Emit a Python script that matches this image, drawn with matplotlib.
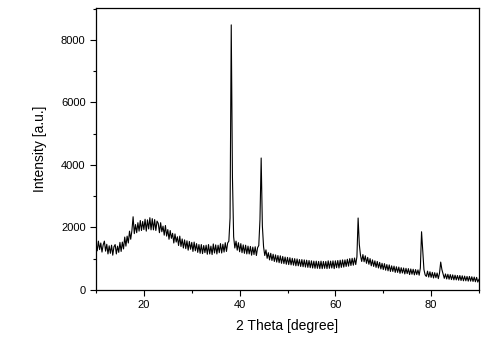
import numpy as np
import matplotlib
matplotlib.use('Agg')
import matplotlib.pyplot as plt
from matplotlib.ticker import MultipleLocator

# XRD pattern, 2 theta from 10 to 90 in 0.25 degree steps
two_theta = np.arange(10, 90.001, 0.25)

intensity = [
    1490, 1250, 1560, 1290,   # 10
    1500, 1210, 1440, 1560,   # 11
    1240, 1460, 1150, 1410,   # 12
    1170, 1430, 1110, 1380,   # 13
    1450, 1150, 1400, 1200,   # 14
    1520, 1230, 1530, 1310,   # 15
    1690, 1400, 1720, 1500,   # 16
    1880, 1620, 1900, 2340,   # 17
    1800, 2090, 1830, 2150,   # 18
    1880, 2220, 1900, 2190,   # 19
    1930, 2260, 1880, 2240,   # 20
    1950, 2310, 1920, 2280,   # 21
    1920, 2250, 1900, 2200,   # 22
    2130, 1830, 2150, 1860,   # 23
    2040, 1750, 2060, 1720,   # 24
    1930, 1620, 1900, 1650,   # 25
    1810, 1500, 1790, 1530,   # 26
    1700, 1420, 1720, 1390,   # 27
    1630, 1340, 1600, 1320,   # 28
    1570, 1270, 1550, 1300,   # 29
    1520, 1230, 1530, 1250,   # 30
    1480, 1200, 1450, 1170,   # 31
    1450, 1160, 1420, 1190,   # 32
    1430, 1140, 1450, 1150,   # 33
    1400, 1130, 1470, 1180,   # 34
    1440, 1150, 1430, 1190,   # 35
    1480, 1180, 1460, 1210,   # 36
    1510, 1230, 1500, 1560,   # 37
    2300, 8480, 3600, 1700,   # 38
    1340, 1560, 1270, 1510,   # 39
    1220, 1480, 1190, 1440,   # 40
    1170, 1430, 1150, 1400,   # 41
    1150, 1390, 1110, 1370,   # 42
    1130, 1380, 1100, 1350,   # 43
    1420, 2250, 4220, 2050,   # 44
    1380, 1100, 1280, 1010,   # 45
    1190, 960, 1170, 940,     # 46
    1140, 910, 1120, 890,     # 47
    1100, 870, 1090, 850,     # 48
    1070, 840, 1050, 820,     # 49
    1040, 810, 1030, 800,     # 50
    1010, 790, 1000, 770,     # 51
    990, 770, 970, 750,       # 52
    970, 740, 960, 730,       # 53
    950, 720, 940, 710,       # 54
    930, 700, 920, 690,       # 55
    920, 690, 910, 680,       # 56
    920, 680, 910, 690,       # 57
    910, 680, 930, 690,       # 58
    920, 700, 930, 680,       # 59
    930, 710, 940, 700,       # 60
    950, 720, 960, 730,       # 61
    960, 750, 980, 760,       # 62
    1000, 780, 1010, 790,     # 63
    1020, 810, 1060, 2300,    # 64
    1450, 1100, 910, 1130,    # 65
    900, 1090, 850, 1040,     # 66
    820, 1000, 770, 960,      # 67
    750, 930, 720, 910,       # 68
    700, 880, 670, 850,       # 69
    650, 840, 630, 810,       # 70
    610, 800, 590, 770,       # 71
    590, 760, 560, 740,       # 72
    560, 730, 530, 710,       # 73
    540, 700, 510, 690,       # 74
    520, 680, 490, 670,       # 75
    500, 660, 480, 650,       # 76
    490, 640, 470, 700,       # 77
    1860, 1250, 650, 480,     # 78
    430, 600, 410, 580,       # 79
    400, 560, 380, 550,       # 80
    390, 540, 360, 530,       # 81
    890, 650, 510, 370,       # 82
    510, 350, 500, 340,       # 83
    490, 330, 480, 320,       # 84
    470, 320, 460, 310,       # 85
    460, 300, 450, 290,       # 86
    440, 290, 430, 280,       # 87
    430, 280, 420, 270,       # 88
    410, 260, 400, 250,       # 89
    340,                      # 90
]

x_ticks = [20, 40, 60, 80]
y_ticks = [0, 2000, 4000, 6000, 8000]

plt.rcParams['font.family'] = ['Liberation Sans', 'DejaVu Sans']

fig = plt.figure(figsize=(5, 3.48), dpi=100)
ax = fig.add_axes([0.192, 0.167, 0.766, 0.810])

ax.plot(two_theta, intensity, color='black', linewidth=0.8)

ax.set_xlim(10, 90)
ax.set_ylim(0, 9020)
ax.set_xticks(x_ticks)
ax.set_yticks(y_ticks)
ax.xaxis.set_minor_locator(MultipleLocator(10))
ax.yaxis.set_minor_locator(MultipleLocator(1000))
ax.tick_params(which='major', direction='out', length=4, width=0.8, labelsize=8)
ax.tick_params(which='minor', direction='out', length=2.5, width=0.8)

for s in ax.spines.values():
    s.set_linewidth(0.9)

ax.set_xlabel('2 Theta [degree]', fontsize=10, labelpad=6)
ax.set_ylabel('Intensity [a.u.]', fontsize=10, labelpad=10)

fig.savefig('out.png', dpi=100)
